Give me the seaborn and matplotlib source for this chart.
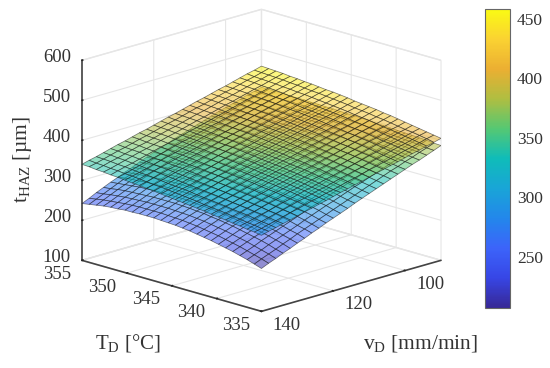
"""
Heat affected zone thickness over die temperature and drawing speed.
"""

import matplotlib.pyplot as plt
import matplotlib as mpl
import seaborn as sns
import numpy as np
from mpl_toolkits.mplot3d import proj3d

# grid of the two response surfaces, rows follow temp_d, columns follow speed_d
temp_d = [355.0, 354.2, 353.4, 352.6, 351.8, 351.0, 350.2, 349.4, 348.6, 347.8, 347.0, 346.2, 345.4,
          344.6, 343.8, 343.0, 342.2, 341.4, 340.6, 339.8, 339.0, 338.2, 337.4, 336.6, 335.8, 335.0]
speed_d = [140, 138, 136, 134, 132, 130, 128, 126, 124, 122, 120, 118, 116,
           114, 112, 110, 108, 106, 104, 102, 100, 98, 96, 94, 92, 90]

t_haz_upper = [
    [340, 345, 349, 354, 359, 364, 368, 373, 378, 382, 387, 392, 397, 401, 406, 411, 416, 420, 425, 430, 434, 439, 444, 449, 453, 458],
    [339, 343, 348, 353, 358, 362, 367, 372, 376, 381, 386, 391, 395, 400, 405, 410, 414, 419, 424, 429, 433, 438, 443, 447, 452, 457],
    [337, 342, 347, 351, 356, 361, 366, 370, 375, 380, 385, 389, 394, 399, 404, 408, 413, 418, 423, 427, 432, 437, 442, 446, 451, 456],
    [336, 340, 345, 350, 355, 360, 364, 369, 374, 379, 383, 388, 393, 398, 402, 407, 412, 417, 421, 426, 431, 436, 440, 445, 450, 455],
    [334, 339, 344, 348, 353, 358, 363, 368, 372, 377, 382, 387, 391, 396, 401, 406, 410, 415, 420, 425, 429, 434, 439, 444, 449, 453],
    [333, 337, 342, 347, 352, 356, 361, 366, 371, 376, 380, 385, 390, 395, 399, 404, 409, 414, 418, 423, 428, 433, 438, 442, 447, 452],
    [331, 336, 340, 345, 350, 355, 360, 364, 369, 374, 379, 384, 388, 393, 398, 403, 407, 412, 417, 422, 427, 431, 436, 441, 446, 450],
    [329, 334, 339, 344, 348, 353, 358, 363, 367, 372, 377, 382, 387, 391, 396, 401, 406, 411, 415, 420, 425, 430, 434, 439, 444, 449],
    [328, 332, 337, 342, 347, 351, 356, 361, 366, 371, 375, 380, 385, 390, 394, 399, 404, 409, 414, 418, 423, 428, 433, 438, 442, 447],
    [326, 330, 335, 340, 345, 350, 354, 359, 364, 369, 374, 378, 383, 388, 393, 398, 402, 407, 412, 417, 421, 426, 431, 436, 441, 445],
    [324, 329, 333, 338, 343, 348, 353, 357, 362, 367, 372, 377, 381, 386, 391, 396, 400, 405, 410, 415, 420, 424, 429, 434, 439, 444],
    [322, 327, 331, 336, 341, 346, 351, 355, 360, 365, 370, 375, 379, 384, 389, 394, 399, 403, 408, 413, 418, 422, 427, 432, 437, 442],
    [320, 325, 330, 334, 339, 344, 349, 353, 358, 363, 368, 373, 377, 382, 387, 392, 397, 401, 406, 411, 416, 420, 425, 430, 435, 440],
    [318, 323, 328, 332, 337, 342, 347, 351, 356, 361, 366, 371, 375, 380, 385, 390, 394, 399, 404, 409, 414, 418, 423, 428, 433, 437],
    [316, 321, 325, 330, 335, 340, 345, 349, 354, 359, 364, 368, 373, 378, 383, 387, 392, 397, 402, 407, 411, 416, 421, 426, 430, 435],
    [314, 319, 323, 328, 333, 338, 342, 347, 352, 357, 361, 366, 371, 376, 381, 385, 390, 395, 400, 404, 409, 414, 419, 423, 428, 433],
    [312, 316, 321, 326, 331, 335, 340, 345, 350, 354, 359, 364, 369, 373, 378, 383, 388, 392, 397, 402, 407, 411, 416, 421, 426, 431],
    [310, 314, 319, 324, 328, 333, 338, 343, 347, 352, 357, 362, 366, 371, 376, 381, 385, 390, 395, 400, 404, 409, 414, 419, 423, 428],
    [307, 312, 317, 321, 326, 331, 336, 340, 345, 350, 355, 359, 364, 369, 373, 378, 383, 388, 392, 397, 402, 407, 411, 416, 421, 426],
    [305, 310, 314, 319, 324, 329, 333, 338, 343, 347, 352, 357, 362, 366, 371, 376, 380, 385, 390, 395, 399, 404, 409, 413, 418, 423],
    [303, 307, 312, 317, 321, 326, 331, 336, 340, 345, 350, 354, 359, 364, 368, 373, 378, 383, 387, 392, 397, 401, 406, 411, 415, 420],
    [300, 305, 310, 314, 319, 324, 328, 333, 338, 342, 347, 352, 356, 361, 366, 370, 375, 380, 384, 389, 394, 398, 403, 408, 412, 417],
    [298, 302, 307, 312, 316, 321, 326, 330, 335, 340, 344, 349, 354, 358, 363, 368, 372, 377, 382, 386, 391, 396, 400, 405, 410, 414],
    [295, 300, 304, 309, 314, 318, 323, 328, 332, 337, 342, 346, 351, 356, 360, 365, 369, 374, 379, 383, 388, 393, 397, 402, 407, 411],
    [293, 297, 302, 306, 311, 316, 320, 325, 330, 334, 339, 343, 348, 353, 357, 362, 367, 371, 376, 380, 385, 390, 394, 399, 404, 408],
    [290, 295, 299, 304, 308, 313, 318, 322, 327, 331, 336, 341, 345, 350, 354, 359, 364, 368, 373, 377, 382, 387, 391, 396, 400, 405],
]

t_haz_lower = [
    [242, 250, 259, 267, 275, 282, 290, 297, 305, 312, 319, 326, 332, 339, 345, 351, 357, 363, 369, 375, 380, 385, 390, 396, 400, 405],
    [245, 253, 261, 269, 277, 285, 292, 299, 306, 313, 320, 327, 334, 340, 346, 352, 358, 364, 370, 375, 380, 386, 391, 396, 400, 405],
    [248, 256, 264, 272, 279, 287, 294, 301, 308, 315, 322, 328, 335, 341, 347, 353, 359, 364, 370, 375, 381, 386, 391, 396, 400, 405],
    [251, 258, 266, 274, 281, 288, 295, 302, 309, 316, 323, 329, 335, 342, 348, 353, 359, 365, 370, 376, 381, 386, 391, 395, 400, 405],
    [253, 260, 268, 275, 283, 290, 297, 304, 310, 317, 323, 330, 336, 342, 348, 354, 360, 365, 370, 375, 381, 386, 391, 395, 400, 404],
    [254, 262, 269, 276, 284, 291, 298, 304, 311, 318, 324, 330, 336, 342, 348, 354, 359, 365, 370, 375, 381, 386, 390, 395, 400, 404],
    [256, 263, 270, 277, 285, 291, 298, 305, 312, 318, 324, 330, 336, 342, 348, 354, 359, 365, 370, 375, 380, 385, 390, 395, 399, 404],
    [256, 264, 271, 278, 285, 292, 299, 305, 312, 318, 324, 330, 336, 342, 348, 354, 359, 364, 370, 375, 380, 385, 389, 394, 399, 403],
    [257, 264, 271, 278, 285, 292, 299, 305, 311, 318, 324, 330, 336, 342, 347, 353, 359, 364, 369, 375, 379, 384, 389, 394, 398, 403],
    [257, 264, 271, 278, 285, 292, 298, 305, 311, 317, 324, 330, 335, 341, 347, 353, 358, 363, 369, 374, 379, 384, 388, 393, 398, 402],
    [257, 264, 271, 278, 285, 291, 298, 304, 310, 317, 323, 329, 335, 340, 346, 352, 357, 363, 368, 373, 378, 383, 388, 392, 397, 402],
    [256, 263, 270, 277, 284, 290, 297, 303, 310, 316, 322, 328, 334, 339, 345, 351, 356, 362, 367, 372, 377, 382, 387, 392, 396, 401],
    [255, 262, 269, 276, 282, 289, 296, 302, 308, 315, 321, 327, 333, 338, 344, 350, 355, 361, 366, 371, 376, 381, 386, 391, 396, 400],
    [254, 261, 268, 274, 281, 288, 294, 300, 307, 313, 319, 325, 331, 337, 342, 348, 354, 359, 365, 370, 375, 380, 385, 390, 395, 400],
    [252, 259, 266, 273, 279, 286, 292, 299, 305, 311, 318, 324, 330, 335, 341, 347, 352, 358, 363, 369, 374, 379, 384, 389, 394, 399],
    [250, 257, 264, 270, 277, 284, 290, 297, 303, 309, 315, 322, 328, 334, 339, 345, 351, 356, 362, 367, 373, 378, 383, 388, 393, 398],
    [247, 254, 261, 268, 275, 281, 288, 294, 301, 307, 313, 320, 326, 332, 337, 343, 349, 354, 360, 366, 371, 377, 382, 387, 392, 397],
    [244, 251, 258, 265, 272, 278, 285, 292, 298, 304, 311, 317, 323, 329, 335, 341, 347, 353, 358, 364, 370, 375, 381, 386, 391, 396],
    [241, 248, 255, 262, 269, 275, 282, 289, 295, 302, 308, 314, 321, 327, 333, 339, 345, 351, 356, 362, 368, 374, 379, 384, 390, 395],
    [237, 244, 251, 258, 265, 272, 279, 285, 292, 299, 305, 312, 318, 324, 330, 336, 342, 348, 354, 360, 366, 372, 377, 383, 389, 394],
    [233, 240, 247, 254, 261, 268, 275, 282, 289, 295, 302, 308, 315, 321, 327, 334, 340, 346, 352, 358, 364, 370, 376, 382, 388, 393],
    [229, 236, 243, 250, 257, 264, 271, 278, 285, 292, 298, 305, 312, 318, 324, 331, 337, 343, 349, 356, 362, 368, 374, 380, 386, 392],
    [224, 231, 238, 246, 253, 260, 267, 274, 281, 288, 295, 301, 308, 315, 321, 328, 334, 341, 347, 354, 360, 366, 373, 379, 385, 391],
    [219, 226, 233, 241, 248, 255, 262, 269, 277, 284, 291, 298, 304, 311, 318, 325, 331, 338, 344, 351, 358, 364, 370, 376, 383, 390],
    [213, 221, 228, 235, 243, 250, 258, 265, 272, 279, 286, 293, 300, 307, 314, 321, 328, 335, 342, 349, 355, 362, 368, 375, 381, 388],
    [207, 215, 222, 230, 237, 245, 252, 260, 267, 275, 282, 289, 296, 304, 311, 318, 325, 332, 339, 346, 353, 360, 366, 373, 380, 387],
]

temp_ticks = [335, 340, 345, 350, 355]
speed_ticks = [100, 120, 140]
t_haz_ticks = [100, 200, 300, 400, 500, 600]
cbar_ticks = [250, 300, 350, 400, 450]

sns.set_theme(style='white')
plt.rcParams['font.family'] = ['Liberation Serif', 'DejaVu Serif']
plt.rcParams['mathtext.default'] = 'regular'
plt.rcParams['grid.color'] = '#e6e6e6'
plt.rcParams['grid.linewidth'] = 0.8

TEXT = '#333333'
W, H = 550, 368

cmap = sns.blend_palette(
    ['#372896', '#3746e6', '#3c64fa', '#2387eb', '#19a5d7', '#0fbcb9',
     '#55c873', '#afbe41', '#ebaf32', '#fad232', '#fafa14'],
    n_colors=256, as_cmap=True)
norm = mpl.colors.Normalize(207, 458)

fig = plt.figure(figsize=(W / 100, H / 100), dpi=100)
ax = fig.add_axes([72.5 / W, 18.7 / H, H / W, 1.0], projection='3d')
ax.set_proj_type('ortho')
ax.view_init(elev=16.5, azim=135)
ax.set_box_aspect((1, 1, 0.8216), zoom=1.0955)
ax.patch.set_alpha(0)

X, Y = np.meshgrid(temp_d, speed_d, indexing='ij')
ax.computed_zorder = False
for order, values in enumerate([t_haz_lower, t_haz_upper]):
    Z = np.array(values, dtype=float)
    # one colour per cell, taken from the mean of its corners
    mid = (Z[:-1, :-1] + Z[1:, :-1] + Z[:-1, 1:] + Z[1:, 1:]) / 4
    faces = cmap(norm(mid))
    faces[..., 3] = 0.55
    ax.plot_surface(X, Y, Z, facecolors=faces, rstride=1, cstride=1, shade=False,
                    edgecolor=(0.1, 0.1, 0.1, 0.6), linewidth=0.5, zorder=order + 2)

ax.set_xlim(335, 355)
ax.set_ylim(90, 140)
ax.set_zlim(100, 600)
ax.set_xticks(temp_ticks)
ax.set_yticks(speed_ticks)
ax.set_zticks(t_haz_ticks)
ax.set_xticklabels([])
ax.set_yticklabels([])
ax.set_zticklabels([])
ax.grid(True)
ax.zaxis.set_ticks_position('upper')

for axis in [ax.xaxis, ax.yaxis, ax.zaxis]:
    axis.set_pane_color((1, 1, 1, 1))
    axis.pane.set_edgecolor('#e6e6e6')
    axis.line.set_color('#444444')
    axis.line.set_linewidth(1.2)
    axis._axinfo['tick']['inward_factor'] = 0.0
    axis._axinfo['tick']['outward_factor'] = 0.06
    axis._axinfo['tick']['color'] = '#444444'


def tick_text(x, y, z, label):
    # tick labels sit off the axes, projected from data units so they follow the box
    px, py, _ = proj3d.proj_transform(x, y, z, ax.get_proj())
    ax.text2D(px, py, label, transform=ax.transData, fontsize=13.5, color=TEXT, ha='center', va='center')


for temp in temp_ticks:
    tick_text(temp, 147, 83, str(temp))
for speed in speed_ticks:
    tick_text(332.2, speed, 83, str(speed))
for t_haz in t_haz_ticks:
    tick_text(355, 147, t_haz + 25, str(t_haz))

fig.text(128 / W, 1 - 349 / H, r'$T_{D}$ [°C]', fontsize=15, color=TEXT, ha='center', va='baseline')
fig.text(420.5 / W, 1 - 349 / H, r'$v_{D}$ [mm/min]', fontsize=15.5, color=TEXT, ha='center', va='baseline')
fig.text(23 / W, 1 - 160 / H, r'$t_{HAZ}$ [µm]', fontsize=15.5, color=TEXT, ha='center', va='center', rotation=90)

cax = fig.add_axes([485 / W, 1 - 308 / H, 25 / W, 299 / H])
bar = fig.colorbar(mpl.cm.ScalarMappable(norm=norm, cmap=cmap), cax=cax, ticks=cbar_ticks)
bar.outline.set_edgecolor('#666666')
bar.outline.set_linewidth(0.8)
cax.tick_params(direction='in', length=2, width=0.7, color='#444444', labelsize=12.5, labelcolor=TEXT, pad=5, right=True)

fig.savefig('out.png', dpi=100)
